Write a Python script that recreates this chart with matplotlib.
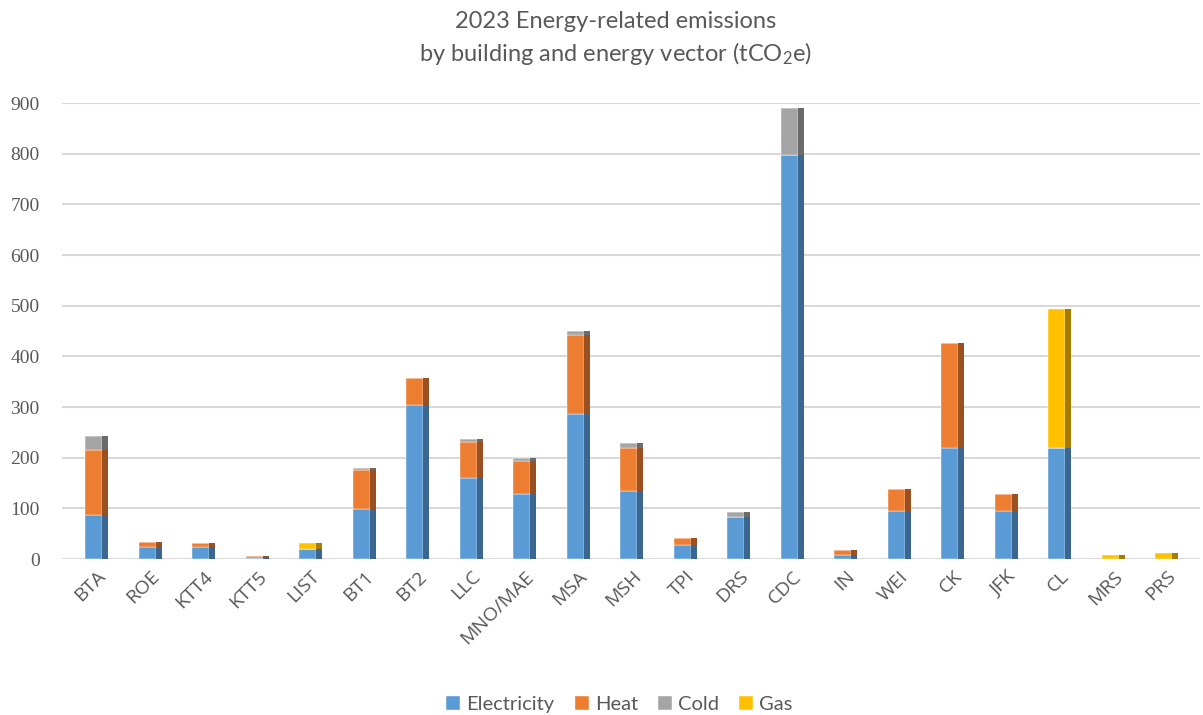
import matplotlib
matplotlib.use("Agg")
import matplotlib.pyplot as plt
import numpy as np

buildings = ["BTA", "ROE", "KTT4", "KTT5", "LIST", "BT1", "BT2", "LLC", "MNO/MAE", "MSA",
             "MSH", "TPI", "DRS", "CDC", "IN", "WEI", "CK", "JFK", "CL", "MRS", "PRS"]
electricity = [87, 23, 24, 1, 20, 99, 304, 159, 128, 287, 134, 27, 83, 797, 8, 94, 220, 94, 220, 0, 0]
heat = [129, 10, 8, 4, 0, 77, 53, 71, 65, 155, 85, 15, 0, 0, 9, 44, 206, 34, 0, 0, 0]
cold = [27, 0, 0, 0, 0, 4, 0, 7, 6, 8, 9, 0, 10, 94, 0, 0, 0, 0, 0, 0, 0]
gas = [0, 0, 0, 0, 11, 0, 0, 0, 0, 0, 0, 0, 0, 0, 0, 0, 0, 0, 274, 7, 11]

series = [
    ("Electricity", electricity, "#5B9BD5", "#3A6690"),
    ("Heat", heat, "#ED7D31", "#9A5020"),
    ("Cold", cold, "#A5A5A5", "#6B6B6B"),
    ("Gas", gas, "#FFC000", "#A67C00"),
]

TEXT = "#595959"
GRID = "#D9D9D9"

plt.rcParams["mathtext.fontset"] = "custom"
plt.rcParams["mathtext.rm"] = "Lato"
plt.rcParams["mathtext.it"] = "Lato:italic"

fig = plt.figure(figsize=(12.03, 7.15), dpi=100)
ax = fig.add_axes([62 / 1203, 156 / 715, 1138 / 1203, 456 / 715])

x = np.arange(len(buildings))
front_w = 0.32
side_w = 0.11
bottom = np.zeros(len(buildings))
handles = []
for name, vals, face, shade in series:
    vals = np.array(vals, dtype=float)
    # front face and a darker strip on the right for the 3D look
    h = ax.bar(x - 0.215, vals, front_w, bottom=bottom, align="edge", color=face,
               edgecolor="white", linewidth=0.3, label=name, zorder=3)
    ax.bar(x - 0.215 + front_w, vals, side_w, bottom=bottom, align="edge", color=shade,
           linewidth=0, zorder=3)
    handles.append(h)
    bottom += vals

ax.set_xlim(-0.65, 20.62)
ax.set_ylim(0, 900)
ax.set_yticks(range(0, 901, 100))
ax.yaxis.grid(True, color=GRID, linewidth=1.5, zorder=0)
ax.set_axisbelow(True)
for s in ax.spines.values():
    s.set_visible(False)
ax.tick_params(length=0)
ax.tick_params(axis="y", pad=16)
ax.tick_params(axis="x", pad=6)
ax.set_xticks(x)
ax.set_xticklabels(buildings, rotation=45, ha="right", rotation_mode="anchor")
for lbl in ax.get_xticklabels():
    lbl.set_fontfamily("Open Sans")
    lbl.set_fontsize(14)
    lbl.set_color(TEXT)
for lbl in ax.get_yticklabels():
    lbl.set_fontfamily("Liberation Serif")
    lbl.set_fontsize(14)
    lbl.set_color(TEXT)

fig.text(0.512, 0.985, "2023 Energy-related emissions\nby building and energy vector (tCO$_2$e)",
         ha="center", va="top", fontsize=17, color=TEXT, family="Lato", linespacing=1.4)

fig.legend(handles=handles, loc="lower center", bbox_to_anchor=(0.515, -0.022), ncol=4,
           frameon=False, prop={"family": "Lato", "size": 14.5}, labelcolor=TEXT,
           handlelength=0.7, handleheight=0.7, handletextpad=0.3, columnspacing=1.0)

fig.savefig("out.png", dpi=100)
